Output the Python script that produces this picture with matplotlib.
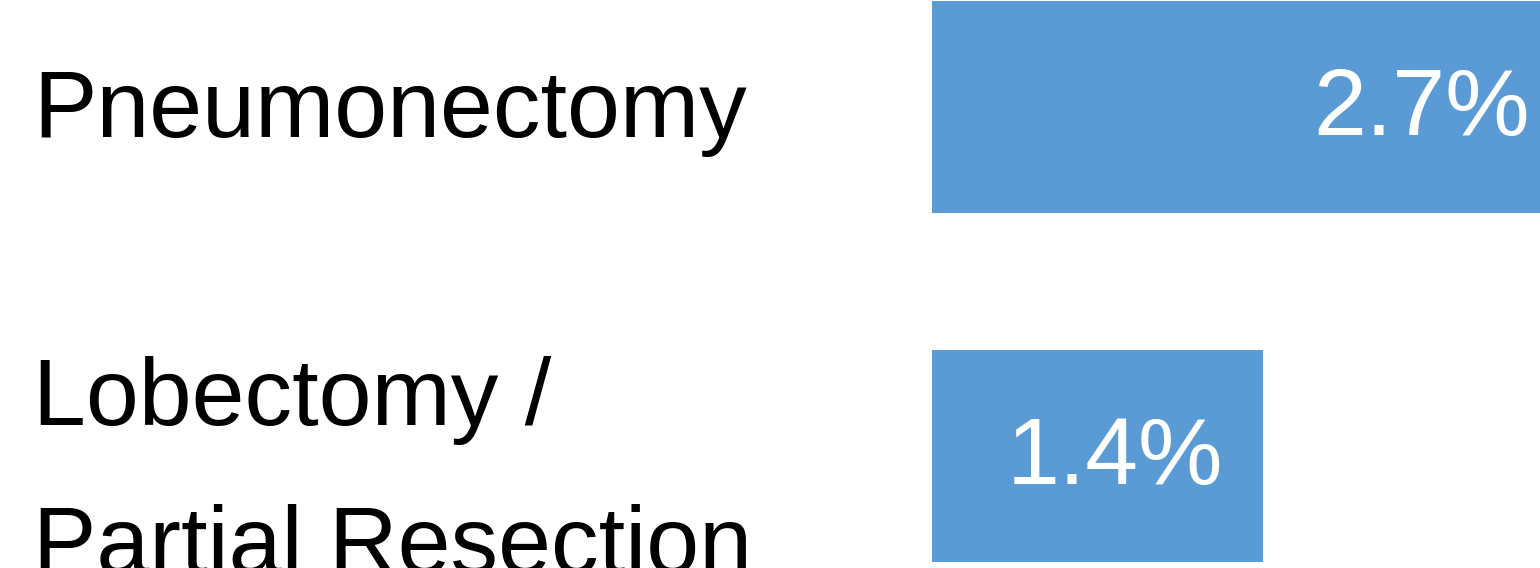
"""
plot.py — 手術別の割合（横棒グラフ）
"""
import matplotlib
matplotlib.use("Agg")
import matplotlib.pyplot as plt
import numpy as np

# データ
categories = ["Pneumonectomy", "Lobectomy /\nPartial Resection"]
values = [2.7, 1.4]
value_labels = ["2.7%", "1.4%"]

BAR_COLOR = "#5B9BD5"
FONT = "Liberation Sans"
FS = 68.5
LINE_STEP = 148  # 行間 (px)

fig = plt.figure(figsize=(15.4, 5.68), dpi=100)
# 棒の左端は x=932px、右端は画像の端
ax = fig.add_axes([932 / 1540, 0, 1 - 932 / 1540, 1])

pos = np.arange(len(categories))
ax.barh(pos, values, height=0.607, color=BAR_COLOR, edgecolor="none")

# 1.4 が 1263px に来るようにスケール
ax.set_xlim(0, 608 / 236.4)
ax.set_ylim(1.321, -0.307)
ax.axis("off")

# 棒の中の数値（白、右寄せ）
for p, v, lab in zip(pos, values, value_labels):
    ax.annotate(lab, xy=(v, p), xytext=(-40, -28), textcoords="offset pixels",
                ha="right", va="baseline", color="white", fontsize=FS,
                family=FONT, annotation_clip=False)

# カテゴリラベル（左寄せ、行ごとに配置）
trans = ax.get_yaxis_transform()
for p, cat in zip(pos, categories):
    lines = cat.split("\n")
    first = 30 - 61 * (len(lines) - 1)
    for j, line in enumerate(lines):
        ax.annotate(line, xy=((33 - 932) / 608, p), xycoords=trans,
                    xytext=(0, -(first + j * LINE_STEP)), textcoords="offset pixels",
                    ha="left", va="baseline", fontsize=FS, family=FONT,
                    color="black", annotation_clip=False)

fig.savefig("out.png", dpi=100)
plt.close(fig)
